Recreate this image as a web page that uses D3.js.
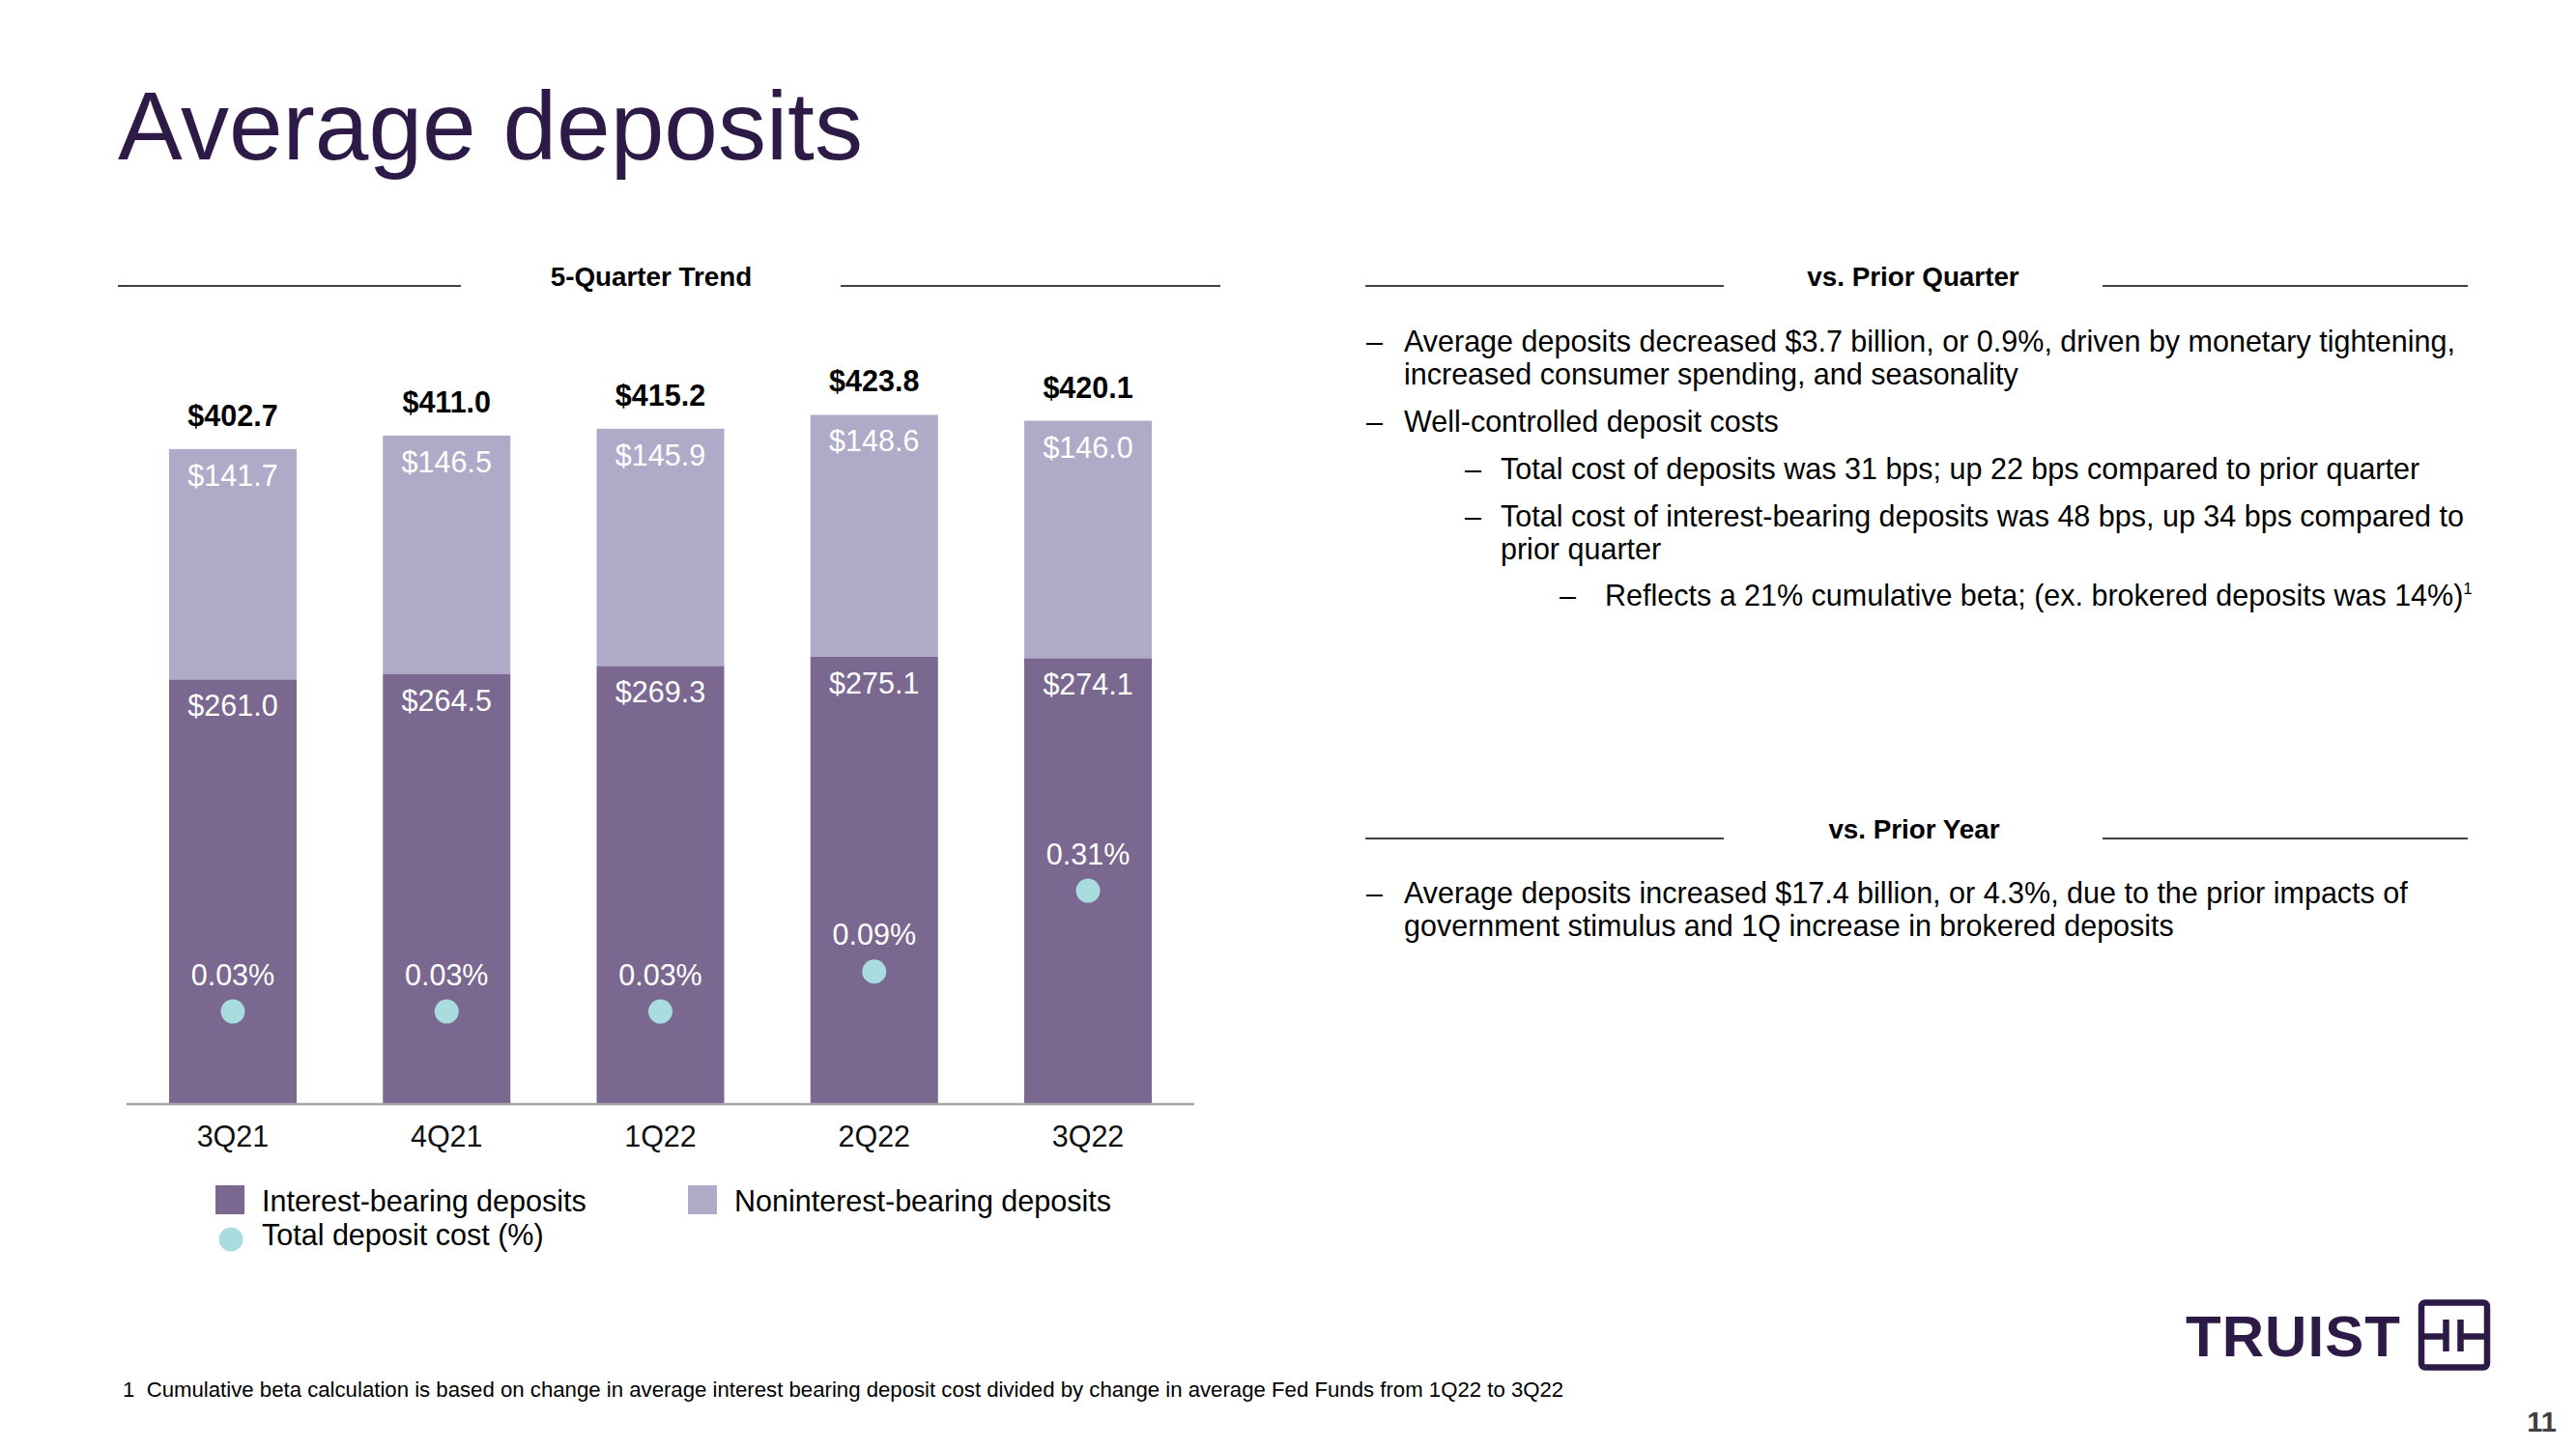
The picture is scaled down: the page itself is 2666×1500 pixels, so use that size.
<!DOCTYPE html>
<html>
<head>
<meta charset="utf-8">
<script src="https://cdn.jsdelivr.net/npm/d3@7"></script>
<style>
  html, body { margin: 0; padding: 0; background: #fff; }
  svg { display: block; }
  text { font-family: "Liberation Sans", Arial, Helvetica, sans-serif; }
</style>
</head>
<body>
<svg id="chart" width="2666" height="1500"></svg>
<script>
// ---- data ----
const quarters = ["3Q21", "4Q21", "1Q22", "2Q22", "3Q22"];
const interestBearing = [261.0, 264.5, 269.3, 275.1, 274.1];
const nonInterestBearing = [141.7, 146.5, 145.9, 148.6, 146.0];
const totals = [402.7, 411.0, 415.2, 423.8, 420.1];
const depositCost = [0.03, 0.03, 0.03, 0.09, 0.31];
const legendItems = ["Interest-bearing deposits", "Noninterest-bearing deposits", "Total deposit cost (%)"];

const colDark = "#7a6890";
const colLight = "#b0aac9";
const colDot = "#a8dcdf";
const colBrand = "#2e1a47";

const svg = d3.select("#chart");

// title
svg.append("text").attr("x", 122).attr("y", 165)
  .attr("font-size", 100).attr("fill", colBrand).text("Average deposits");

// section headers with rules
function header(label, cx, baseline, l1, l2) {
  svg.append("line").attr("x1", l1[0]).attr("x2", l1[1]).attr("y1", baseline).attr("y2", baseline)
    .attr("stroke", "#404040").attr("stroke-width", 2.2);
  svg.append("line").attr("x1", l2[0]).attr("x2", l2[1]).attr("y1", baseline).attr("y2", baseline)
    .attr("stroke", "#404040").attr("stroke-width", 2.2);
  svg.append("text").attr("x", cx).attr("y", baseline).attr("text-anchor", "middle")
    .attr("font-size", 27.8).attr("font-weight", "bold").attr("fill", "#000").text(label);
}
header("5-Quarter Trend", 674, 296, [122, 477], [870, 1263]);
header("vs. Prior Quarter", 1980, 296, [1413, 1784], [2176, 2554]);
header("vs. Prior Year", 1981, 868, [1413, 1784], [2176, 2554]);

// ---- chart ----
const x = d3.scaleBand().domain(quarters).range([131, 1236]).paddingInner(0.4034).paddingOuter(0.1987);
const y = d3.scaleLinear().domain([0, 450]).range([1143, 385.2]);
const y2 = d3.scaleSqrt().domain([0, 1]).range([1103.5, 777.6]);

const g = svg.append("g");
const rows = quarters.map((q, i) => ({ q, ib: interestBearing[i], nib: nonInterestBearing[i], tot: totals[i], cost: depositCost[i] }));

// noninterest (top) segments
g.selectAll("rect.nib").data(rows).join("rect").attr("class", "nib")
  .attr("x", d => x(d.q)).attr("width", x.bandwidth())
  .attr("y", d => y(d.ib + d.nib)).attr("height", d => y(d.ib) - y(d.ib + d.nib))
  .attr("fill", colLight);
// interest bearing (bottom) segments
g.selectAll("rect.ib").data(rows).join("rect").attr("class", "ib")
  .attr("x", d => x(d.q)).attr("width", x.bandwidth())
  .attr("y", d => y(d.ib)).attr("height", d => y(0) - y(d.ib))
  .attr("fill", colDark);

// axis baseline
const xAxis = d3.axisBottom(x).tickSize(0).tickPadding(0);
const ax = svg.append("g").attr("transform", "translate(0,1143)").call(xAxis);
ax.select(".domain").attr("d", "M131,0H1236").attr("stroke", "#a6a6a6").attr("stroke-width", 2.5);
ax.selectAll(".tick text").attr("y", 44).attr("dy", null)
  .attr("font-size", 30.5).attr("fill", "#111")
  .attr("font-family", "'Liberation Sans', Arial, sans-serif");

const cx = d => x(d.q) + x.bandwidth() / 2;

// segment labels
g.selectAll("text.nibl").data(rows).join("text").attr("class", "nibl")
  .attr("x", cx).attr("y", d => y(d.ib + d.nib) + 38).attr("text-anchor", "middle")
  .attr("font-size", 30.5).attr("fill", "#fff").text(d => "$" + d.nib.toFixed(1));
g.selectAll("text.ibl").data(rows).join("text").attr("class", "ibl")
  .attr("x", cx).attr("y", d => y(d.ib) + 38).attr("text-anchor", "middle")
  .attr("font-size", 30.5).attr("fill", "#fff").text(d => "$" + d.ib.toFixed(1));
// totals
g.selectAll("text.tot").data(rows).join("text").attr("class", "tot")
  .attr("x", cx).attr("y", d => y(d.ib + d.nib) - 24).attr("text-anchor", "middle")
  .attr("font-size", 30.5).attr("font-weight", "bold").attr("fill", "#000").text(d => "$" + d.tot.toFixed(1));

// cost dots
g.selectAll("circle.cost").data(rows).join("circle").attr("class", "cost")
  .attr("cx", cx).attr("cy", d => y2(d.cost)).attr("r", 12.5).attr("fill", colDot);
g.selectAll("text.costl").data(rows).join("text").attr("class", "costl")
  .attr("x", cx).attr("y", d => y2(d.cost) - 27.5).attr("text-anchor", "middle")
  .attr("font-size", 30.5).attr("fill", "#fff").text(d => d.cost.toFixed(2) + "%");

// legend
const lg = svg.append("g");
lg.append("rect").attr("x", 223).attr("y", 1227).attr("width", 30).attr("height", 30).attr("fill", colDark);
lg.append("text").attr("x", 271).attr("y", 1254).attr("font-size", 30.5).attr("fill", "#000").text(legendItems[0]);
lg.append("rect").attr("x", 712).attr("y", 1227).attr("width", 30).attr("height", 30).attr("fill", colLight);
lg.append("text").attr("x", 760).attr("y", 1254).attr("font-size", 30.5).attr("fill", "#000").text(legendItems[1]);
lg.append("circle").attr("cx", 239).attr("cy", 1283).attr("r", 12.5).attr("fill", colDot);
lg.append("text").attr("x", 271).attr("y", 1289).attr("font-size", 30.5).attr("fill", "#000").text(legendItems[2]);

// ---- right panel text ----
const fs = 30.5;
function bullet(dx, tx, lines, y0, lh) {
  svg.append("text").attr("x", dx).attr("y", y0).attr("font-size", fs).attr("fill", "#000").text("\u2013");
  lines.forEach((t, i) => {
    svg.append("text").attr("x", tx).attr("y", y0 + i * lh).attr("font-size", fs).attr("fill", "#000").text(t);
  });
}
bullet(1414, 1453, ["Average deposits decreased $3.7 billion, or 0.9%, driven by monetary tightening,",
                    "increased consumer spending, and seasonality"], 364, 33.5);
bullet(1414, 1453, ["Well-controlled deposit costs"], 447, 33.5);
bullet(1516, 1553, ["Total cost of deposits was 31 bps; up 22 bps compared to prior quarter"], 496, 33.5);
bullet(1516, 1553, ["Total cost of interest-bearing deposits was 48 bps, up 34 bps compared to",
                    "prior quarter"], 545, 33.5);
const last = svg.append("text").attr("x", 1661).attr("y", 627).attr("font-size", fs).attr("fill", "#000")
  .text("Reflects a 21% cumulative beta; (ex. brokered deposits was 14%)");
last.append("tspan").attr("dy", -12).attr("font-size", 17).text("1");
svg.append("text").attr("x", 1614).attr("y", 627).attr("font-size", fs).attr("fill", "#000").text("\u2013");

bullet(1414, 1453, ["Average deposits increased $17.4 billion, or 4.3%, due to the prior impacts of",
                    "government stimulus and 1Q increase in brokered deposits"], 935, 33.5);

// footnote
svg.append("text").attr("x", 127).attr("y", 1446).attr("font-size", 22.2).attr("fill", "#000")
  .attr("xml:space", "preserve")
  .text("1  Cumulative beta calculation is based on change in average interest bearing deposit cost divided by change in average Fed Funds from 1Q22 to 3Q22");

// page number
svg.append("text").attr("x", 2646).attr("y", 1482).attr("text-anchor", "end")
  .attr("font-size", 29).attr("font-weight", "bold").attr("fill", "#404040").text("11");

// logo
svg.append("text").attr("x", 2262).attr("y", 1404).attr("font-family", "'Open Sans', Lato, sans-serif")
  .attr("font-weight", 600).attr("font-size", 60).attr("fill", colBrand)
  .attr("textLength", 222).attr("lengthAdjust", "spacing").text("TRUIST");
const logo = svg.append("g").attr("fill", "none").attr("stroke", colBrand).attr("stroke-width", 6.5);
logo.append("rect").attr("x", 2506).attr("y", 1348.5).attr("width", 68).attr("height", 67).attr("rx", 4);
logo.append("line").attr("x1", 2531.5).attr("x2", 2531.5).attr("y1", 1366).attr("y2", 1399);
logo.append("line").attr("x1", 2546.5).attr("x2", 2546.5).attr("y1", 1366).attr("y2", 1399);
logo.append("line").attr("x1", 2506).attr("x2", 2531.5).attr("y1", 1383.5).attr("y2", 1383.5);
logo.append("line").attr("x1", 2546.5).attr("x2", 2574).attr("y1", 1383.5).attr("y2", 1383.5);
</script>
</body>
</html>
